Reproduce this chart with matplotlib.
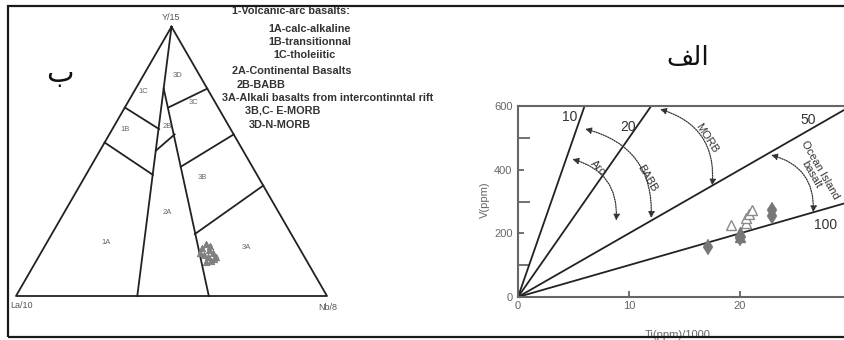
import matplotlib
matplotlib.use('Agg')
import matplotlib.pyplot as plt
from matplotlib.patches import Rectangle
import numpy as np

# ---------------- data ----------------
# ternary (Y/15, La/10, Nb/8) in percent
tern_corners = [(100, 0, 0), (0, 100, 0), (0, 0, 100)]
tern_bounds = [
    [(100, 0, 0), (0, 61, 39)],        # 1 / 2
    [(77, 14, 9), (0, 38, 62)],        # 2 / 3
    [(70, 30, 0), (62, 23, 15)],       # 1B / 1C
    [(57, 43, 0), (45, 33.5, 21.5)],   # 1A / 1B
    [(60, 19, 21), (54, 28, 18)],      # 2A / 2B
    [(70, 16, 14), (77, 0, 23)],       # 3C / 3D
    [(48, 23, 29), (60, 0, 40)],       # 3B / 3C
    [(23, 31, 46), (41, 0, 59)],       # 3A / 3B
]
field_names = ['1C', '3D', '3C', '1B', '2B', '3B', '2A', '1A', '3A']
field_pos = [(76, 21, 3), (82, 7, 11), (72, 7, 21), (62, 34, 4), (63, 20, 17),
             (44, 18, 38), (31, 36, 33), (20, 61, 19), (18, 17, 65)]
samp_Y = [17.8, 19.3, 17.1, 15.2, 14.5, 16.0, 14.5, 13.0, 12.6, 16.0, 18.6, 13.7]
samp_La = [31.3, 29.3, 29.4, 32.0, 31.1, 28.7, 28.4, 30.8, 32.6, 32.8, 28.3, 29.4]
samp_Nb = [50.9, 51.4, 53.5, 52.8, 54.4, 55.3, 57.1, 56.2, 54.8, 51.2, 53.1, 56.9]

legend_lines = ['1-Volcanic-arc basalts:', '1A-calc-alkaline', '1B-transitionnal',
                '1C-tholeiitic', '2A-Continental Basalts', '2B-BABB',
                '3A-Alkali basalts from intercontinntal rift', '3B,C- E-MORB',
                '3D-N-MORB']

# Ti/V diagram
ratios = [10, 20, 50, 100]
ratio_lbl_x = [4.7, 9.9, 26.1, 27.7]
ratio_lbl_v = [565, 534, 556, 226]
arc_names = ['Arc', 'BABB', 'MORB', 'Ocean Island\nbasalt']
arc_start = [(4.9, 433), (6.05, 528), (12.8, 590), (22.8, 446)]
arc_end = [(8.85, 240), (12.0, 248), (17.5, 350), (26.6, 266)]
arc_lbl = [(7.2, 405), (11.6, 374), (17.0, 500), (26.8, 392)]
arc_rot = [-45, -60, -57, -60]
open_tri_x = [19.2, 20.5, 20.5, 20.8, 21.1]
open_tri_v = [226, 232, 248, 262, 272]
fill_tri_x = [20.0, 20.0]
fill_tri_v = [204, 190]
dia_x = [22.9, 22.9, 17.1, 20.0]
dia_v = [255, 272, 157, 185]


def tern(y, la, nb):
    y = np.asarray(y, float)
    la = np.asarray(la, float)
    nb = np.asarray(nb, float)
    s = y + la + nb
    return nb / s + y / s / 2, y / s * np.sqrt(3) / 2


W, H = 844, 340
fig = plt.figure(figsize=(W / 100, H / 100), dpi=100)
fx = lambda px: px / W
fy = lambda py: 1 - py / H

# outer frame
fig.add_artist(Rectangle((fx(8), fy(337)), 1.2, fy(6) - fy(337), transform=fig.transFigure,
                         fill=False, lw=1.6, ec='#1a1a1a', zorder=10))

# ---------------- ternary ----------------
axt = fig.add_axes([fx(16), fy(296), 311 / W, 269.3 / H])
axt.set_xlim(0, 1)
axt.set_ylim(0, np.sqrt(3) / 2)
axt.axis('off')
cx, cy = tern(*zip(*(tern_corners + tern_corners[:1])))
axt.plot(cx, cy, color='#222', lw=1.3, clip_on=False)
for a, b in tern_bounds:
    bx, by = tern(*zip(a, b))
    axt.plot(bx, by, color='#222', lw=1.3, clip_on=False)
for name, p in zip(field_names, field_pos):
    px_, py_ = tern(*p)
    axt.text(px_, py_, name, fontsize=5.5, color='#666', ha='center', va='center',
             family='Liberation Sans')
sx, sy = tern(samp_Y, samp_La, samp_Nb)
axt.scatter(sx, sy, marker='^', s=22, color='#858585', edgecolors='#777', lw=0.5, zorder=3)
axt.scatter(sx, sy, marker='d', s=14, color='#808080', lw=0, zorder=3)
fig.text(fx(171), fy(17), 'Y/15', fontsize=6.5, color='#555', ha='center', va='center',
         family='Liberation Sans')
fig.text(fx(10), fy(305), 'La/10', fontsize=6.5, color='#555', ha='left', va='center',
         family='Liberation Sans')
fig.text(fx(318), fy(307), 'Nb/8', fontsize=6.5, color='#555', ha='left', va='center',
         family='Liberation Sans')

leg_x = [232, 268, 268, 273, 232, 237, 222, 245, 249]
leg_y = [11, 28.5, 42, 55.5, 70.5, 84.5, 98, 111, 124.5]
for t, lx, ly in zip(legend_lines, leg_x, leg_y):
    fig.text(fx(lx), fy(ly), t, fontsize=7.8, fontweight='bold', color='#333',
             ha='left', va='center', family=['Liberation Sans Narrow', 'Liberation Sans'])

# Arabic labels (presentation forms so the letters join right-to-left)
fig.text(fx(60), fy(74), '\uFE8F', fontsize=21, color='#111', ha='center', va='center',
         family='DejaVu Sans')
fig.text(fx(688), fy(58), '\uFED2\uFEDF\uFE8D', fontsize=19, color='#111', ha='center',
         va='center', family='DejaVu Sans')

# ---------------- Ti - V ----------------
ax = fig.add_axes([fx(518), fy(297), (851 - 518) / W, 191 / H])
ax.set_xlim(0, 30)
ax.set_ylim(0, 600)
xx = np.array([0, 30])
for r in ratios:
    ax.plot(xx, xx * 1000 / r, color='#222', lw=1.3)
for r, lx, lv in zip(ratios, ratio_lbl_x, ratio_lbl_v):
    ax.text(lx, lv, str(r), fontsize=10, color='#333', ha='center', va='center',
            family='Liberation Sans')
for name, s, e, lp, rot in zip(arc_names, arc_start, arc_end, arc_lbl, arc_rot):
    ax.annotate('', xy=e, xytext=s,
                arrowprops=dict(arrowstyle='<|-|>', connectionstyle='arc3,rad=-0.4',
                                linestyle=(0, (1, 1)), color='#333', lw=0.9,
                                mutation_scale=9, shrinkA=0, shrinkB=0))
    ax.text(lp[0], lp[1], name, fontsize=8, color='#333', rotation=rot,
            ha='center', va='center', family='Liberation Sans', linespacing=1.0)
ax.plot(open_tri_x, open_tri_v, '^', ms=6.5, mfc='white', mec='#8a8a8a', mew=1.0, ls='none')
ax.plot(fill_tri_x, fill_tri_v, '^', ms=6.5, mfc='#777', mec='#777', ls='none')
ax.plot(dia_x, dia_v, 'd', ms=8, mfc='#777', mec='#777', mew=0.3, ls='none')

for sp in ax.spines.values():
    sp.set_color('#666')
    sp.set_linewidth(1.5)
ax.set_xticks([0, 10, 20, 30])
ax.set_yticks([0, 200, 400, 600])
ax.set_yticks([100, 300, 500], minor=True)
ax.tick_params(axis='both', which='major', direction='in', length=4.5, width=1.3,
               color='#666', labelcolor='#666', labelsize=8, pad=4)
ax.tick_params(axis='y', which='minor', direction='in', length=8.5, width=1.3, color='#666')
ax.tick_params(axis='x', which='major', pad=3)
for lab in ax.get_xticklabels() + ax.get_yticklabels():
    lab.set_family('Liberation Sans')
ax.set_xlabel('Ti(ppm)/1000', fontsize=8, color='#666', family='Liberation Sans')
ax.set_ylabel('V(ppm)', fontsize=8, color='#666', family='Liberation Sans')
ax.xaxis.set_label_coords(0.48, -0.172)
ax.yaxis.set_label_coords(-0.085, 0.51)

fig.savefig('out.png', dpi=100)
